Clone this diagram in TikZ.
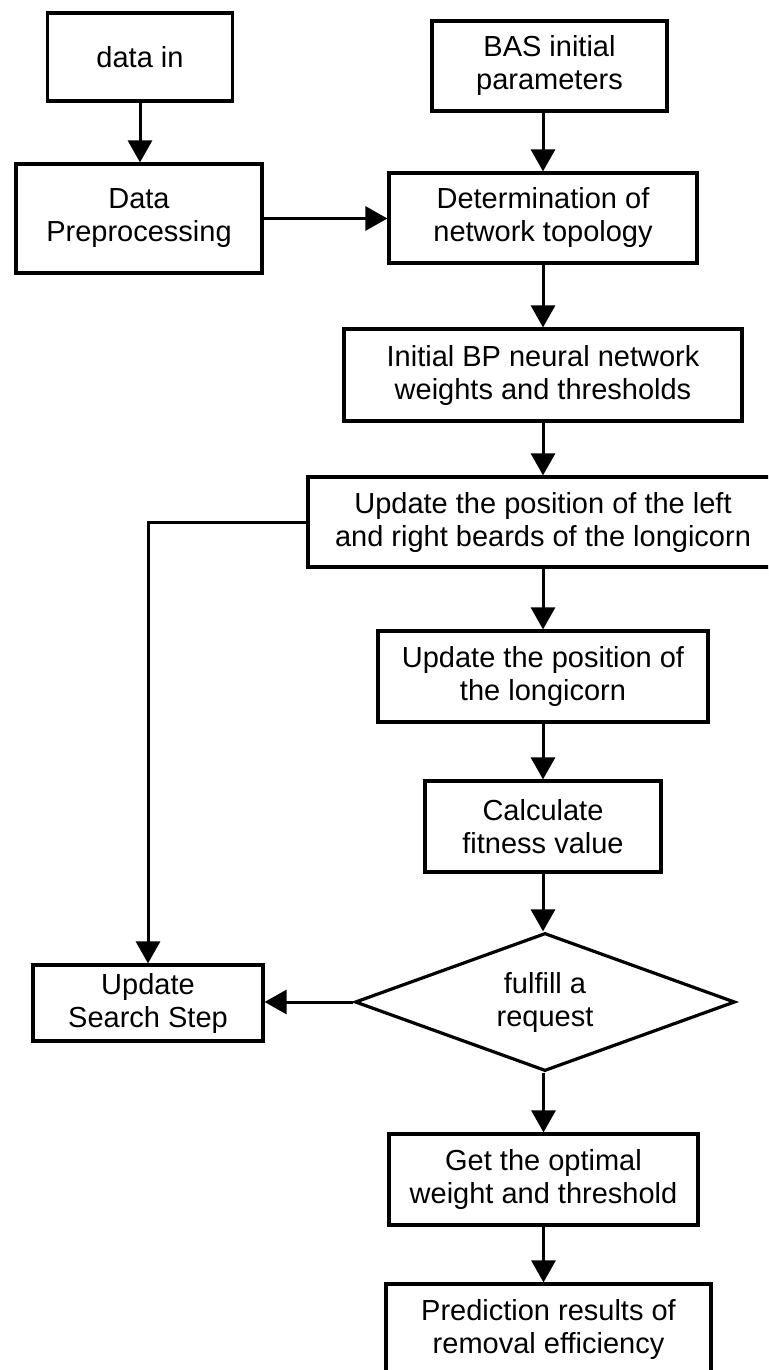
\documentclass[tikz,border=0pt]{standalone}
\usepackage{fontspec}
\setmainfont{Liberation Sans}
\usetikzlibrary{arrows.meta,shapes.geometric}
\tikzset{
  box/.style={draw, line width=3.2pt, inner sep=0pt, align=center,
    font=\fontsize{29pt}{33pt}\selectfont},
  decision/.style={diamond, draw, line width=3.2pt, inner sep=0pt, aspect=2.75,
    align=center, font=\fontsize{29pt}{33pt}\selectfont},
  conn/.style={line width=3pt, -{Triangle[width=24pt,length=22pt]}},
}
\begin{document}
\begin{tikzpicture}[x=1pt,y=-1pt]
\useasboundingbox (0,0) rectangle (768,1370);
\clip (0,0) rectangle (768,1370);
\fill[white] (0,0) rectangle (768,1370);

\node[box, minimum width=185pt, minimum height=88pt] (datain) at (140,57) {data in};
\node[box, minimum width=235pt, minimum height=90pt] (bas) at (549.5,66) {BAS initial\\parameters};
\node[box, minimum width=246pt, minimum height=109pt] (dp) at (139,218.5) {Data\\Preprocessing};
\node[box, minimum width=308pt, minimum height=90pt] (det) at (543,218) {Determination of\\network topology};
\node[box, minimum width=398pt, minimum height=92pt] (initbp) at (543,375) {Initial BP neural network\\weights and thresholds};
\node[box, minimum width=470pt, minimum height=90pt] (ulr) at (543,522) {Update the position of the left\\and right beards of the longicorn};
\node[box, minimum width=330pt, minimum height=91pt] (ulong) at (543,676.5) {Update the position of\\the longicorn};
\node[box, minimum width=236pt, minimum height=91pt] (calc) at (543,826.5) {Calculate\\fitness value};
\node[decision, minimum width=380pt, minimum height=138pt] (dec) at (545,1002) {fulfill a\\request};
\node[box, minimum width=230pt, minimum height=76pt] (uss) at (148,1003) {Update\\Search Step};
\node[box, minimum width=309pt, minimum height=91pt] (opt) at (543.5,1179.5) {Get the optimal\\weight and threshold};
\node[box, minimum width=325pt, minimum height=91pt] (pred) at (548.5,1329.5) {Prediction results of\\removal efficiency};

\draw[conn] (datain.south) -- (datain.south |- dp.north);
\draw[conn] (dp.east) -- (dp.east -| det.west);
\draw[conn] (bas.south -| det.north) -- (det.north);
\draw[conn] (det.south) -- (initbp.north);
\draw[conn] (initbp.south) -- (ulr.north);
\draw[conn] (ulr.south) -- (ulong.north);
\draw[conn] (ulong.south) -- (calc.north);
\draw[conn] (calc.south) -- (calc.south |- dec.north);
\draw[conn] (dec.south -| opt.north) -- (opt.north);
\draw[conn] (opt.south) -- (opt.south |- pred.north);
\draw[conn] (ulr.west) -| (uss.north);
\draw[conn] (dec.west) -- (dec.west -| uss.east);
\end{tikzpicture}
\end{document}
